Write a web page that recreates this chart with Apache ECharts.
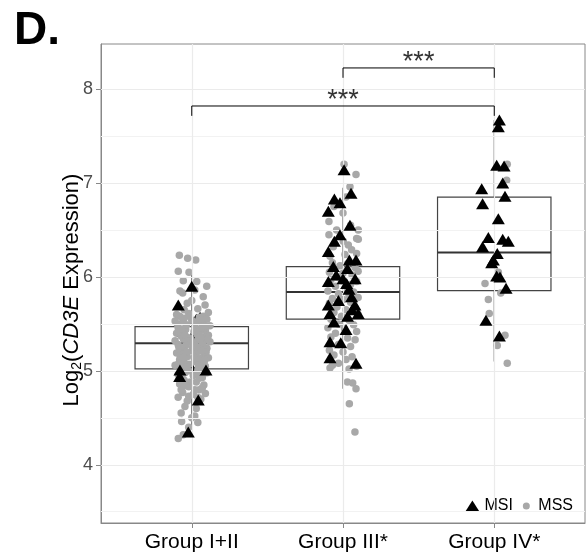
<!DOCTYPE html>
<html><head><meta charset="utf-8">
<script src="https://cdn.jsdelivr.net/npm/echarts@6/dist/echarts.min.js"></script>
<style>html,body{margin:0;padding:0;background:#fff}#c{width:586px;height:559px}</style>
</head><body><div id="c"></div>
<script>
const categories = ['Group I+II', 'Group III*', 'Group IV*'];
const yTicks = [4, 5, 6, 7, 8];
const yMajorGrid = [4, 5, 6, 7, 8];
const yMinorGrid = [3.5, 4.5, 5.5, 6.5, 7.5];
// [lower whisker, Q1, median, Q3, upper whisker]
const boxStats = [
  [4.42, 5.02, 5.295, 5.47, 6.05],
  [4.81, 5.55, 5.84, 6.11, 6.95],
  [5.10, 5.855, 6.26, 6.85, 7.67]
];
// points: [jitter offset from group centre, value]
const g1MSS = [
  [-0.082,6.23],[-0.027,6.20],[0.026,6.18],[-0.089,6.06],[-0.018,6.05],[-0.056,5.96],[0.033,5.95],[0.099,5.90],
  [-0.078,5.85],[-0.06,5.83],[0.02,5.86],[0.076,5.79],[0.088,5.70],[-0.03,5.72],[0.0,5.75],[-0.1,5.60],
  [0.076,5.58],[-0.05,5.65],[0.04,5.66],[0.11,5.62],
  [-0.08,5.58],[-0.02,5.61],[0.05,5.57],[0.10,5.55],
  [-0.11,5.53],[-0.06,5.52],[0.0,5.54],[0.07,5.50],[0.12,5.48],
  [-0.09,5.46],[-0.04,5.44],[0.02,5.47],[0.09,5.43],[-0.10,5.40],[0.05,5.41],[0.11,5.38],
  [-0.07,5.37],[-0.01,5.35],[0.04,5.33],[0.08,5.36],[-0.11,5.32],[0.12,5.31],
  [-0.09,5.28],[-0.04,5.27],[0.01,5.29],[0.06,5.26],[0.10,5.24],[-0.06,5.22],
  [-0.10,5.19],[0.0,5.21],[0.03,5.18],[0.08,5.17],[-0.03,5.15],[0.11,5.14],
  [-0.08,5.12],[-0.05,5.09],[0.02,5.10],[0.06,5.08],[-0.11,5.06],[0.09,5.05],
  [-0.07,5.02],[-0.02,5.00],[0.04,5.01],[0.10,4.98],[-0.09,4.96],[0.01,4.95],[0.07,4.93],
  [-0.05,4.90],[0.03,4.88],[-0.08,4.86],[0.08,4.85],[-0.02,4.83],[0.05,4.80],
  [-0.06,4.77],[0.01,4.75],[0.09,4.76],[-0.09,4.72],[0.06,4.70],[-0.03,4.68],
  [-0.045,4.62],[0.03,4.60],[-0.07,4.55],[0.02,4.52],[-0.067,4.46],[0.0,4.50],[0.04,4.45],[-0.089,4.28],[-0.056,4.32],[-0.02,4.40],
  [-0.015,5.58],[0.025,5.52],[-0.035,5.49],[0.065,5.46],[-0.085,5.42],[0.035,5.39],[-0.025,5.31],[0.075,5.30],[-0.055,5.34],
  [0.005,5.25],[0.045,5.22],[-0.075,5.16],[0.055,5.13],[-0.015,5.07],[0.085,5.11],[-0.035,5.04],[0.065,5.03],[-0.095,5.50],
  [0.105,5.34],[0.095,5.20],
  [-0.065,5.44],[0.015,5.42],[-0.045,5.38],[0.06,5.35],[-0.005,5.32],[-0.085,5.25],[0.03,5.26],[-0.035,5.20],[0.07,5.21],
  [-0.055,5.14],[0.015,5.14],[-0.085,5.08],[0.045,5.06],[-0.045,4.98],[0.03,4.97],[-0.065,4.93],[0.05,4.92],[-0.01,4.88],
  [-0.04,4.84],[0.02,4.80],[-0.07,4.80],[0.07,4.82],[-0.02,4.73],[0.04,4.72],[-0.05,5.56],[0.06,5.54],[0.085,5.48]
];
const g1MSIback = [[-0.056,5.42],[0.01,5.39],[0.055,5.57],[0.0,5.03],[0.055,5.28],[0.03,5.55]];
const g1MSI = [[0.0,5.90],[-0.089,5.70],[-0.078,5.01],[0.094,5.01],[-0.08,4.94],[0.043,4.69],[-0.023,4.35]];
const g2MSS = [
  [0.007,7.20],[0.086,7.09],[0.046,6.96],[0.0,6.68],[-0.093,6.59],[-0.042,6.50],[0.101,6.50],[-0.093,6.45],[0.09,6.41],
  [-0.086,5.03],[0.029,4.88],[0.064,4.87],[0.086,4.81],[0.042,4.65],[0.079,4.35],
  [-0.064,6.32],[-0.086,6.22],[0.013,6.24],[0.057,6.29],[0.09,6.25],[0.035,6.34],[0.101,6.40],[0.002,6.38],[0.05,6.55],[-0.06,6.75],[0.02,6.85],
  [-0.07,6.15],[-0.02,6.12],[0.03,6.14],[0.08,6.10],[-0.09,6.05],[0.0,6.04],[0.06,6.02],[-0.04,6.00],[0.1,6.06],
  [-0.08,5.97],[-0.01,5.96],[0.05,5.92],[0.09,5.95],[-0.05,5.90],[0.02,5.88],[-0.1,5.85],[0.07,5.84],[-0.03,5.82],[0.04,5.80],[0.1,5.78],
  [-0.07,5.77],[0.0,5.76],[-0.09,5.72],[0.05,5.73],[-0.04,5.68],[0.08,5.67],[0.02,5.65],[-0.06,5.62],[0.1,5.60],[-0.01,5.58],
  [-0.08,5.55],[0.04,5.54],[-0.03,5.50],[0.07,5.49],[-0.1,5.46],[0.01,5.45],[0.09,5.42],[-0.05,5.40],
  [-0.08,5.36],[0.03,5.35],[0.08,5.33],[-0.03,5.28],[0.05,5.26],[-0.09,5.22],[0.0,5.20],
  [-0.06,5.17],[0.06,5.15],[0.02,5.12],[-0.03,5.08],[0.09,5.05],[-0.07,5.06],[0.04,5.02]
];
const g2MSI = [
  [0.007,7.14],[0.053,6.89],[-0.057,6.83],[-0.02,6.79],[-0.097,6.70],[0.046,6.55],[-0.02,6.45],[-0.057,6.38],[-0.097,6.27],
  [0.042,6.18],[0.086,6.18],[-0.064,6.11],[0.029,6.09],[-0.097,5.95],[0.024,5.93],[0.057,5.79],[-0.097,5.70],[0.079,5.70],
  [0.101,5.61],[-0.086,5.61],[0.02,5.44],[-0.086,5.31],[-0.015,5.30],[-0.086,5.14],[0.086,5.08],
  [0.0,5.98],[0.04,5.87],[-0.03,5.75],[0.06,5.65],[-0.06,5.52],[0.03,5.58],[0.08,5.98],[-0.045,6.02]
];
const g3MSS = [[0.086,7.20],[0.082,7.03],[0.027,6.05],[-0.061,5.93],[0.043,5.83],[-0.039,5.76],[-0.033,5.61],[0.071,5.38],[0.02,5.27],[0.086,5.08]];
const g3MSI = [
  [0.034,7.67],[0.027,7.60],[0.016,7.19],[0.065,7.18],[0.056,7.00],[-0.083,6.94],[0.071,6.86],[-0.077,6.78],[0.027,6.62],
  [-0.039,6.42],[0.056,6.40],[0.093,6.38],[-0.077,6.32],[0.02,6.25],[-0.006,6.18],[-0.017,6.15],[0.016,6.01],[0.038,6.00],
  [0.078,5.88],[-0.055,5.54],[0.034,5.37]
];
// significance brackets: [from group, to group, bar value, tip value]
const brackets = [[1, 3, 7.82, 7.715], [2, 3, 8.225, 8.12]];
const bracketLabels = ['***', '***'];

const FONT = 'Liberation Sans, Arial, Helvetica, sans-serif';
function place(pts, g) { return pts.map(p => [g + p[0], p[1]]); }
const MSS = [].concat(place(g1MSS,1), place(g2MSS,2), place(g3MSS,3));
const MSIfront = [].concat(place(g1MSI,1), place(g2MSI,2), place(g3MSI,3));
const MSIback = place(g1MSIback,1);

function renderBox(params, api) {
  const x = api.value(0);
  const pLo = api.coord([x, api.value(1)]);
  const pQ1 = api.coord([x, api.value(2)]);
  const pMed = api.coord([x, api.value(3)]);
  const pQ3 = api.coord([x, api.value(4)]);
  const pHi = api.coord([x, api.value(5)]);
  const w = api.size([0.75, 0])[0];
  return { type: 'group', children: [
    { type: 'line', shape: { x1: pHi[0], y1: pHi[1], x2: pQ3[0], y2: pQ3[1] }, style: { stroke: '#666', lineWidth: 1.2 } },
    { type: 'line', shape: { x1: pQ1[0], y1: pQ1[1], x2: pLo[0], y2: pLo[1] }, style: { stroke: '#666', lineWidth: 1.2 } },
    { type: 'rect', shape: { x: pQ3[0] - w / 2, y: pQ3[1], width: w, height: pQ1[1] - pQ3[1] }, style: { fill: '#fff', stroke: '#444', lineWidth: 1.2 } },
    { type: 'line', shape: { x1: pMed[0] - w / 2, y1: pMed[1], x2: pMed[0] + w / 2, y2: pMed[1] }, style: { stroke: '#333', lineWidth: 2 } }
  ]};
}

const gridLines = [].concat(
  yMinorGrid.map(v => ({ yAxis: v, lineStyle: { color: '#f2f2f2', width: 1 } })),
  yMajorGrid.map(v => ({ yAxis: v, lineStyle: { color: '#ebebeb', width: 1.2 } })),
  categories.map((c, i) => ({ xAxis: i + 1, lineStyle: { color: '#ebebeb', width: 1.2 } }))
);

const series = [
  { type: 'scatter', data: [], z: 1, silent: true,
    markLine: { silent: true, symbol: 'none', animation: false, label: { show: false }, lineStyle: { type: 'solid' }, data: gridLines } },
  { type: 'custom', z: 2, renderItem: renderBox, encode: { x: 0, y: [1, 2, 3, 4, 5] },
    data: boxStats.map((s, i) => [i + 1].concat(s)), silent: true },
  { name: 'MSI', type: 'scatter', z: 3, symbol: 'triangle', symbolSize: [13, 11], itemStyle: { color: '#000', opacity: 1 }, data: MSIback },
  { name: 'MSS', type: 'scatter', z: 4, symbol: 'circle', symbolSize: 7.5, itemStyle: { color: '#a8a8a8', opacity: 1 }, data: MSS },
  { name: 'MSI', type: 'scatter', z: 5, symbol: 'triangle', symbolSize: [13, 11], itemStyle: { color: '#000', opacity: 1 }, data: MSIfront }
];
brackets.forEach((b, i) => {
  series.push({ type: 'line', z: 6, showSymbol: false, symbol: 'none', silent: true,
    lineStyle: { color: '#000', width: 1 },
    data: [[b[0], b[3]], [b[0], b[2]], [b[1], b[2]], [b[1], b[3]]] });
  series.push({ type: 'scatter', z: 6, symbolSize: 0, silent: true,
    data: [[(b[0] + b[1]) / 2, b[2]]],
    label: { show: true, position: 'top', distance: -8, formatter: bracketLabels[i], fontSize: 27, color: '#000', fontFamily: FONT } });
});

const chart = echarts.init(document.getElementById('c'), null, { renderer: 'canvas' });
chart.setOption({
  animation: false,
  backgroundColor: '#fff',
  grid: { left: 101, right: 1, top: 44, bottom: 36, show: true, borderColor: '#888', borderWidth: 1, containLabel: false, outerBoundsMode: 'none' },
  xAxis: { type: 'value', min: 0.4, max: 3.6,
    axisLine: { show: true, onZero: false, lineStyle: { color: '#888', width: 1 } },
    axisTick: { show: true, customValues: [1, 2, 3], length: 5, lineStyle: { color: '#888' } },
    axisLabel: { show: true, customValues: [1, 2, 3], formatter: v => categories[Math.round(v) - 1], fontSize: 21, color: '#000', fontFamily: FONT, margin: 9 },
    splitLine: { show: false } },
  yAxis: { type: 'value', min: 3.38, max: 8.48,
    axisLine: { show: true, onZero: false, lineStyle: { color: '#888', width: 1 } },
    axisTick: { show: true, customValues: yTicks, length: 5, lineStyle: { color: '#888' } },
    axisLabel: { show: true, customValues: yTicks, fontSize: 18, color: '#4d4d4d', fontFamily: FONT, margin: 8 },
    splitLine: { show: false } },
  legend: {
    data: [
      { name: 'MSI', icon: 'triangle', itemStyle: { color: '#000', opacity: 1 } },
      { name: 'MSS', icon: 'circle', itemStyle: { color: '#a8a8a8', opacity: 1, borderColor: '#fff', borderWidth: 4 } }
    ],
    right: 10, bottom: 42, itemWidth: 14, itemHeight: 11, itemGap: 6,
    padding: [3, 3, 3, 3], backgroundColor: '#fff',
    textStyle: { fontSize: 16, color: '#000', fontFamily: FONT }
  },
  graphic: [
    { type: 'text', left: 14, top: 8, style: { text: 'D.', font: 'bold 46px ' + FONT, fill: '#000' } },
    { type: 'text', x: 72, y: 290, rotation: Math.PI / 2,
      style: { text: '{n|Log}{s|2}{n|(}{i|CD3E}{n| Expression)}', align: 'center', verticalAlign: 'middle',
        rich: {
          n: { fontSize: 22, fontFamily: FONT, fill: '#000', lineHeight: 24 },
          s: { fontSize: 14, fontFamily: FONT, fill: '#000', lineHeight: 15, padding: [10, 0, 0, 0], verticalAlign: 'top' },
          i: { fontSize: 22, fontFamily: FONT, fill: '#000', fontStyle: 'italic', lineHeight: 24 }
        } } }
  ],
  series: series
});
</script></body></html>
